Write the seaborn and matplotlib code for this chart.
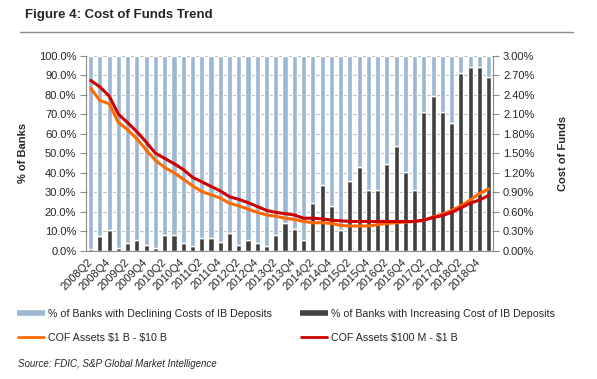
import numpy as np
import pandas as pd
import matplotlib
matplotlib.use("Agg")
import matplotlib.pyplot as plt
from matplotlib.lines import Line2D
from matplotlib.ticker import FuncFormatter, MultipleLocator, FixedLocator
import seaborn as sns

# Data
quarters = ["2008Q2", "2008Q3", "2008Q4", "2009Q1", "2009Q2", "2009Q3", "2009Q4",
            "2010Q1", "2010Q2", "2010Q3", "2010Q4", "2011Q1", "2011Q2", "2011Q3",
            "2011Q4", "2012Q1", "2012Q2", "2012Q3", "2012Q4", "2013Q1", "2013Q2",
            "2013Q3", "2013Q4", "2014Q1", "2014Q2", "2014Q3", "2014Q4", "2015Q1",
            "2015Q2", "2015Q3", "2015Q4", "2016Q1", "2016Q2", "2016Q3", "2016Q4",
            "2017Q1", "2017Q2", "2017Q3", "2017Q4", "2018Q1", "2018Q2", "2018Q3",
            "2018Q4", "2019Q1"]

increasing = [0.9, 7.5, 10.4, 1.4, 3.9, 5.3, 2.9, 1.5, 8.0, 8.0, 3.9, 2.4, 6.5, 6.5,
              4.6, 9.1, 3.1, 5.3, 3.9, 2.4, 8.2, 14.4, 11.3, 5.5, 24.6, 33.5, 23.1,
              10.6, 35.9, 43.1, 31.1, 31.1, 44.6, 53.5, 40.2, 31.1, 71.3, 79.3, 71.3,
              65.5, 91.3, 94.4, 94.4, 89.2]

declining = [99.1, 92.5, 89.6, 98.6, 96.1, 94.7, 97.1, 98.5, 92.0, 92.0, 96.1, 97.6,
             93.5, 93.5, 95.4, 90.9, 96.9, 94.7, 96.1, 97.6, 91.8, 85.6, 88.7, 94.5,
             75.4, 66.5, 76.9, 89.4, 64.1, 56.9, 68.9, 68.9, 55.4, 46.5, 59.8, 68.9,
             28.7, 20.7, 28.7, 34.5, 8.7, 5.6, 5.6, 10.8]

cof_1b_10b = [2.50, 2.31, 2.26, 1.97, 1.86, 1.72, 1.55, 1.39, 1.28, 1.20, 1.10, 1.00,
              0.91, 0.86, 0.81, 0.73, 0.69, 0.64, 0.59, 0.55, 0.53, 0.50, 0.48, 0.45,
              0.43, 0.43, 0.42, 0.39, 0.38, 0.38, 0.38, 0.40, 0.42, 0.43, 0.44, 0.45,
              0.47, 0.52, 0.56, 0.62, 0.69, 0.78, 0.88, 0.95]

cof_100m_1b = [2.62, 2.52, 2.38, 2.10, 1.97, 1.83, 1.67, 1.50, 1.42, 1.34, 1.25, 1.13,
               1.06, 0.99, 0.92, 0.83, 0.79, 0.74, 0.68, 0.62, 0.59, 0.57, 0.55, 0.50,
               0.50, 0.49, 0.47, 0.46, 0.45, 0.45, 0.45, 0.45, 0.45, 0.45, 0.45, 0.45,
               0.47, 0.51, 0.54, 0.59, 0.66, 0.73, 0.78, 0.85]

df = pd.DataFrame({"Quarter": quarters, "Increasing": increasing,
                   "Declining": declining, "COF_small": cof_1b_10b,
                   "COF_mid": cof_100m_1b})
df["pos"] = np.arange(len(df))

# Colors
BLUE = "#9BB7D4"
DARK = "#404040"
ORANGE = "#FF6A00"
RED = "#CC0000"
GREY = "#8C8C8C"

# Style
sns.set_style("white")
plt.rcParams["font.family"] = ["Liberation Sans", "DejaVu Sans"]

fig = plt.figure(figsize=(5.97, 3.79), dpi=100)
ax = fig.add_axes([0.1441, 0.3385, 0.6822, 0.5145])

# -----------------------------------
# Stacked bars
# -----------------------------------
sns.barplot(data=df, x="Quarter", y="Increasing", color=DARK, width=0.55,
            saturation=1, ax=ax, zorder=2)
sns.barplot(data=df, x="Quarter", y="Declining", color=BLUE, width=0.55,
            saturation=1, ax=ax, bottom=df["Increasing"].values, zorder=2)

ax.set_ylim(0, 100)
ax.set_xlim(-0.5, len(df) - 0.5)
ax.yaxis.set_major_locator(MultipleLocator(10))
ax.yaxis.set_major_formatter(FuncFormatter(lambda v, p: f"{v:.1f}%"))
ax.set_axisbelow(True)
ax.yaxis.grid(True, color="#BFBFBF", lw=0.8)
ax.xaxis.grid(False)

ax.xaxis.set_major_locator(FixedLocator(df["pos"].values[::2]))
ax.set_xticklabels(df["Quarter"].values[::2], rotation=45, ha="right",
                   rotation_mode="anchor", va="center")
ax.xaxis.set_minor_locator(FixedLocator(np.arange(-0.5, len(df), 1.0)))
ax.tick_params(axis="x", which="major", length=0, pad=7, labelsize=8)
ax.tick_params(axis="x", which="minor", length=3, color=GREY, direction="out")
ax.tick_params(axis="y", length=4, color=GREY, direction="out", labelsize=8, pad=3,
               left=True)
ax.set_xlabel("")
ax.set_ylabel("% of Banks", fontsize=8, fontweight="bold")
ax.yaxis.set_label_coords(-0.142, 0.5)

for s in ["top", "right"]:
    ax.spines[s].set_visible(False)
for s in ["left", "bottom"]:
    ax.spines[s].set_color(GREY)
    ax.spines[s].set_linewidth(0.8)

# -----------------------------------
# Cost of funds lines (right axis)
# -----------------------------------
ax2 = ax.twinx()
sns.lineplot(data=df, x="pos", y="COF_small", color=ORANGE, lw=2.2, ax=ax2)
sns.lineplot(data=df, x="pos", y="COF_mid", color=RED, lw=2.2, ax=ax2)
ax2.set_ylim(0, 3)
ax2.set_xlim(-0.5, len(df) - 0.5)
ax2.yaxis.set_major_locator(MultipleLocator(0.3))
ax2.yaxis.set_major_formatter(FuncFormatter(lambda v, p: f"{v:.2f}%"))
ax2.tick_params(axis="y", length=4, color=GREY, direction="out", labelsize=8, pad=3,
                right=True)
ax2.set_xlabel("")
ax2.set_ylabel("Cost of Funds", fontsize=8, fontweight="bold")
ax2.yaxis.set_label_coords(1.159, 0.5)
ax2.grid(False)
for s in ["top", "left", "bottom"]:
    ax2.spines[s].set_visible(False)
ax2.spines["right"].set_color(GREY)
ax2.spines["right"].set_linewidth(0.8)

# -----------------------------------
# Title, rule, legend, source
# -----------------------------------
fig.text(25 / 597, 1 - 15 / 379, "Figure 4: Cost of Funds Trend", fontsize=9.5,
         fontweight="bold", ha="left", va="center")
fig.add_artist(Line2D([20 / 597, 573 / 597], [1 - 31.7 / 379, 1 - 31.7 / 379],
                      color=GREY, lw=1))

h_blue = Line2D([], [], color=BLUE, lw=4, solid_capstyle="butt")
h_dark = Line2D([], [], color=DARK, lw=4, solid_capstyle="butt")
h_orange = Line2D([], [], color=ORANGE, lw=2, solid_capstyle="butt")
h_red = Line2D([], [], color=RED, lw=2, solid_capstyle="butt")

leg_kw = dict(loc="upper left", frameon=False, fontsize=7.7, borderpad=0,
              handlelength=2.6, handletextpad=0.3, labelspacing=1.3,
              borderaxespad=0)
leg1 = fig.legend([h_blue, h_orange],
                  ["% of Banks with Declining Costs of IB Deposits",
                   "COF Assets \\$1 B - \\$10 B"],
                  bbox_to_anchor=(17 / 597, 1 - 309 / 379), **leg_kw)
leg2 = fig.legend([h_dark, h_red],
                  ["% of Banks with Increasing Cost of IB Deposits",
                   "COF Assets \\$100 M - \\$1 B"],
                  bbox_to_anchor=(300 / 597, 1 - 309 / 379), **leg_kw)

fig.text(18 / 597, 1 - 364 / 379, "Source: FDIC, S&P Global Market Intelligence",
         fontsize=7, fontstyle="italic", ha="left", va="center")

fig.savefig("out.png", dpi=100)
